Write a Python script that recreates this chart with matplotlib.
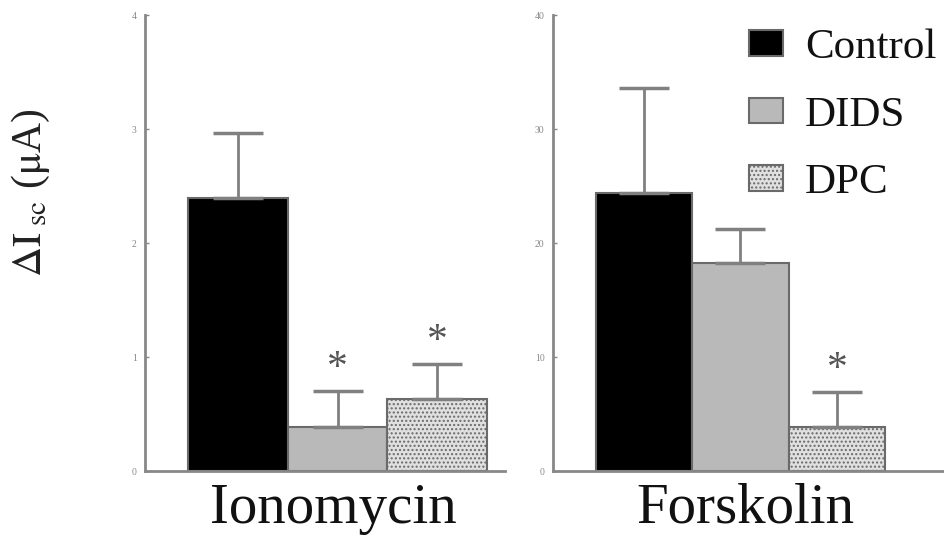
import matplotlib.pyplot as plt

plt.rcParams['font.family'] = ['Liberation Serif', 'DejaVu Serif']
plt.rcParams['mathtext.fontset'] = 'stix'

groups = ["Control", "DIDS", "DPC"]
iono_mean = [2.40, 0.39, 0.63]
iono_err = [0.57, 0.31, 0.31]
forsk_mean = [24.4, 18.3, 3.9]
forsk_err = [9.2, 2.9, 3.0]
iono_sig = [False, True, True]
forsk_sig = [False, False, True]

colors = ["#000000", "#b9b9b9", "#e0e0e0"]
edge = "#6a6a6a"

fig = plt.figure(figsize=(9.44, 5.44), dpi=100)
ax1 = fig.add_axes([0.1536, 0.134, 0.381, 0.838])
ax2 = fig.add_axes([0.5858, 0.134, 0.4142, 0.838])


def draw(ax, means, errs, sig, ymax, ticks, xlim, label, star_off, lx):
    x = range(len(means))
    bars = ax.bar(x, means, width=1.0, color=colors, edgecolor=edge, linewidth=1.5,
                  yerr=[[0] * len(errs), errs], capsize=18,
                  error_kw=dict(ecolor="#808080", elinewidth=2, capthick=2.5))
    bars[2].set_hatch("....")
    for i in x:
        if sig[i]:
            ax.text(i, means[i] + errs[i] + star_off, "*", ha="center", va="bottom",
                    fontsize=30, color="#555555")
    ax.set_xlim(*xlim)
    ax.set_ylim(0, ymax)
    ax.set_yticks(ticks)
    ax.set_xticks([])
    ax.tick_params(axis="y", direction="in", length=3, width=1, colors="#888888",
                   labelsize=7, pad=6)
    for s in ["top", "right"]:
        ax.spines[s].set_visible(False)
    for s in ["left", "bottom"]:
        ax.spines[s].set_color("#888888")
        ax.spines[s].set_linewidth(2)
    ax.set_xlabel(label, fontsize=41, color="#111111")
    ax.xaxis.set_label_coords(lx, -0.025)
    ax.xaxis.label.set_va("top")
    return bars


plt.rcParams['hatch.color'] = "#d4d4d4"
bars = draw(ax1, iono_mean, iono_err, iono_sig, 4, [0, 1, 2, 3, 4],
            (-0.935, 2.68), "Ionomycin", 0.03, (334 - 145) / 360)
draw(ax2, forsk_mean, forsk_err, forsk_sig, 40, [0, 10, 20, 30, 40],
     (-0.943, 3.11), "Forskolin", 0.3, (745 - 553) / 391)

ax1.set_ylabel(r"$\Delta\mathrm{I}_{\ \mathrm{sc}}$ ($\mathrm{\mu}$A)", fontsize=30, color="#222222")
ax1.yaxis.set_label_coords(-0.259, 0.61)

leg = ax2.legend(bars, groups, loc="upper left", bbox_to_anchor=(0.501, 0.97),
                 frameon=False, prop=dict(family="Liberation Serif", size=31),
                 handlelength=0.8, handleheight=0.55, labelspacing=0.67,
                 handletextpad=0.5, borderaxespad=0, borderpad=0)
for t in leg.get_texts():
    t.set_color("#111111")

fig.savefig("out.png", dpi=100)
